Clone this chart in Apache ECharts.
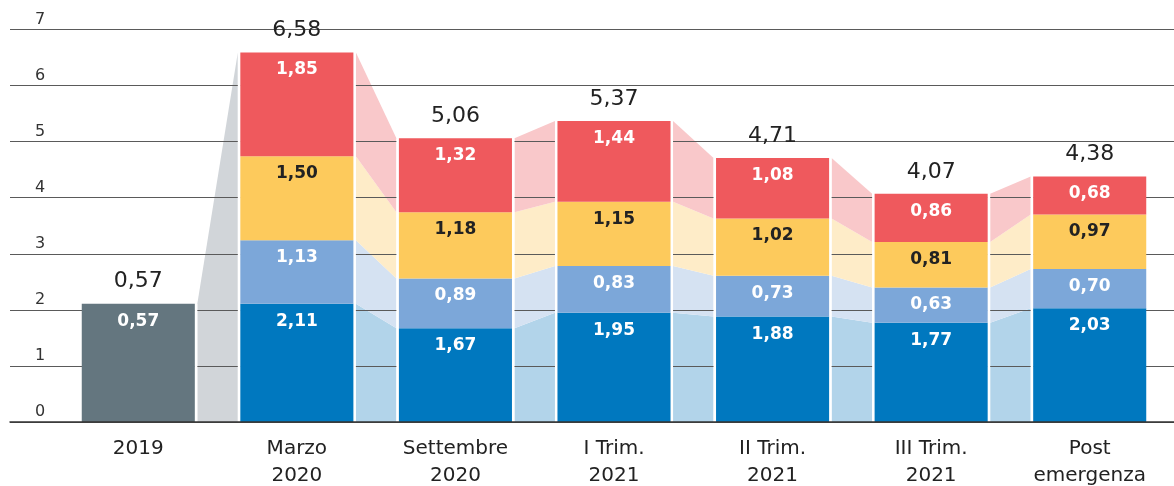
<!DOCTYPE html>
<html><head><meta charset="utf-8">
<script src="https://cdn.jsdelivr.net/npm/echarts@6/dist/echarts.min.js"></script>
<style>html,body{margin:0;padding:0;background:#fff}#c{width:1174px;height:486px}</style>
</head><body><div id="c"></div>
<script>
// ---- data ----
const categories = ['2019', 'Marzo\n2020', 'Settembre\n2020', 'I Trim.\n2021', 'II Trim.\n2021', 'III Trim.\n2021', 'Post\nemergenza'];
const yTicks = [0, 1, 2, 3, 4, 5, 6, 7];
const grey2019Height = [2.11, null, null, null, null, null, null]; // drawn height of the 2019 bar
const grey2019Label = [0.57, null, null, null, null, null, null];
const blue = [null, 2.11, 1.67, 1.95, 1.88, 1.77, 2.03];
const lightBlue = [null, 1.13, 0.89, 0.83, 0.73, 0.63, 0.70];
const yellow = [null, 1.50, 1.18, 1.15, 1.02, 0.81, 0.97];
const red = [null, 1.85, 1.32, 1.44, 1.08, 0.86, 0.68];
const totals = [0.57, 6.58, 5.06, 5.37, 4.71, 4.07, 4.38];

// ---- style ----
const FONT = '"DejaVu Sans"';
const BAR_RATIO = 0.713;
const GAP = 2.5;
const layers = [grey2019Height, blue, lightBlue, yellow, red];
const barColors = ['#64767f', '#0078bf', '#7ca7d9', '#fdca5c', '#ef595d'];
const bandColors = ['#d1d5d9', '#b2d4ea', '#d5e2f2', '#feecc8', '#f9c8ca'];
const labelColors = ['#fff', '#fff', '#fff', '#222', '#fff'];
const fmt = v => v.toFixed(2).replace('.', ',');

function stackAt(i) {
  let cum = 0;
  return layers.map(arr => { const v = arr[i] || 0; const r = [cum, cum + v]; cum += v; return r; });
}
function topAt(i) { return layers.reduce((s, a) => s + (a[i] || 0), 0); }

const gaps = categories.slice(0, -1).map((c, i) => [i]);

const barSeries = layers.map((arr, k) => ({
  type: 'bar', data: arr, stack: 's', xAxisIndex: 1, yAxisIndex: 1,
  barWidth: (BAR_RATIO * 100) + '%', z: 2, silent: true,
  itemStyle: { color: barColors[k] },
  label: {
    show: true, position: 'insideTop', distance: 9, color: labelColors[k],
    fontFamily: FONT, fontSize: 17, fontWeight: 'bold',
    formatter: p => k === 0 ? fmt(grey2019Label[p.dataIndex]) : fmt(p.value)
  }
}));

const bandSeries = {
  type: 'custom', xAxisIndex: 1, yAxisIndex: 1, z: 0, silent: true, data: gaps,
  renderItem(params, api) {
    const i = api.value(0);
    const hw = api.size([1, 0])[0] * BAR_RATIO / 2;
    const sA = stackAt(i), sB = stackAt(i + 1);
    const xL = api.coord([i, 0])[0] + hw + GAP;
    const xR = api.coord([i + 1, 0])[0] - hw - GAP;
    const y = v => api.coord([i, v])[1];
    const children = [];
    if ((grey2019Height[i] || 0) > 0) {
      children.push({ type: 'polygon', shape: { points: [[xL, y(0)], [xL, y(topAt(i))], [xR, y(topAt(i + 1))], [xR, y(0)]] }, style: { fill: bandColors[0] } });
    } else {
      for (let k = 1; k < layers.length; k++) {
        const a = sA[k], b = sB[k];
        children.push({ type: 'polygon', shape: { points: [[xL, y(a[0])], [xL, y(a[1])], [xR, y(b[1])], [xR, y(b[0])]] }, style: { fill: bandColors[k] } });
      }
    }
    return { type: 'group', children };
  }
};

const whiteStripSeries = {
  type: 'custom', xAxisIndex: 1, yAxisIndex: 1, z: 1.5, silent: true, data: gaps,
  renderItem(params, api) {
    const i = api.value(0);
    const hw = api.size([1, 0])[0] * BAR_RATIO / 2;
    const xA = api.coord([i, 0])[0] + hw;
    const xB = api.coord([i + 1, 0])[0] - hw - GAP;
    const y0 = api.coord([i, 0])[1];
    const yA = api.coord([i, topAt(i)])[1];
    const yB = api.coord([i, topAt(i + 1)])[1];
    return { type: 'group', children: [
      { type: 'rect', shape: { x: xA - 0.5, y: yA, width: GAP + 0.5, height: y0 - yA }, style: { fill: '#fff' } },
      { type: 'rect', shape: { x: xB, y: yB, width: GAP + 0.5, height: y0 - yB }, style: { fill: '#fff' } }
    ] };
  }
};

const totalSeries = {
  type: 'custom', xAxisIndex: 1, yAxisIndex: 1, z: 4, silent: true,
  data: categories.map((c, i) => [i]),
  renderItem(params, api) {
    const i = api.value(0);
    const p = api.coord([i, topAt(i)]);
    return { type: 'text', x: p[0], y: p[1] - 22, style: { text: fmt(totals[i]), fill: '#222', font: '400 22px ' + FONT, align: 'center', verticalAlign: 'middle' } };
  }
};

const chart = echarts.init(document.getElementById('c'), null, { renderer: 'canvas' });
chart.setOption({
  animation: false,
  backgroundColor: '#fff',
  grid: [
    { left: 10, right: 0, top: 29.5, bottom: 64, containLabel: false, outerBoundsMode: 'none' },
    { left: 59, right: 5, top: 29.5, bottom: 64, containLabel: false, outerBoundsMode: 'none' }
  ],
  xAxis: [
    { gridIndex: 0, type: 'value', min: 0, max: 1, z: 3,
      axisLine: { show: true, onZero: false, lineStyle: { color: '#333', width: 1.5 } },
      axisTick: { show: false }, axisLabel: { show: false }, splitLine: { show: false } },
    { gridIndex: 1, type: 'category', data: categories,
      axisLine: { show: false }, axisTick: { show: false },
      axisLabel: { interval: 0, fontFamily: FONT, fontSize: 20, lineHeight: 27, color: '#222', margin: 13 } }
  ],
  yAxis: [
    { gridIndex: 0, type: 'value', min: yTicks[0], max: yTicks[yTicks.length - 1], interval: yTicks[1] - yTicks[0], z: 1,
      axisLine: { show: false }, axisTick: { show: false },
      splitLine: { lineStyle: { color: '#5a5a5a', width: 1 } },
      axisLabel: { inside: true, margin: 25, verticalAlign: 'bottom', fontFamily: FONT, fontSize: 16, color: '#333', padding: [0, 0, 2, 0] } },
    { gridIndex: 1, type: 'value', min: yTicks[0], max: yTicks[yTicks.length - 1], show: false }
  ],
  series: [bandSeries, whiteStripSeries, ...barSeries, totalSeries]
});
</script></body></html>
